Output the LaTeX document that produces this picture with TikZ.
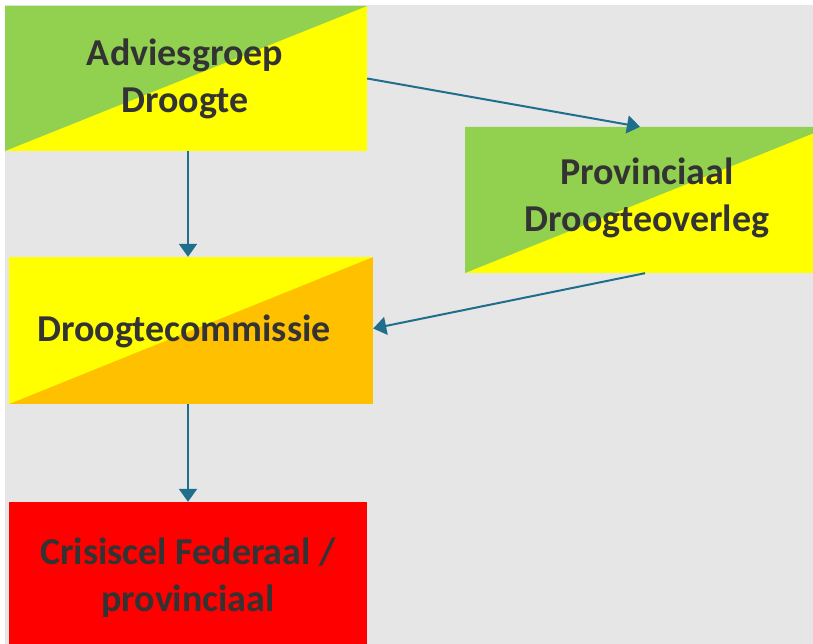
\documentclass[tikz,border=0pt]{standalone}
\usepackage{fontspec}
\setmainfont{Carlito}
\usetikzlibrary{arrows.meta}
\definecolor{bggrey}{HTML}{E6E6E6}
\definecolor{lgreen}{HTML}{92D050}
\definecolor{yel}{HTML}{FFFF00}
\definecolor{orng}{HTML}{FFC000}
\definecolor{rd}{HTML}{FF0000}
\definecolor{txt}{HTML}{333333}
\definecolor{arrc}{RGB}{31,110,140}
\tikzset{
  box/.style={rectangle, inner sep=0pt, draw=none},
  split/.style 2 args={fill=#2, path picture={\fill[#1] (path picture bounding box.north west) -- (path picture bounding box.north east) -- (path picture bounding box.south west) -- cycle;}},
  lbl/.style={align=center, text=txt, font=\fontsize{38}{47}\selectfont\bfseries},
  arr/.style={draw=arrc, line width=2pt, -{Triangle[width=18pt,length=13pt]}}
}
\begin{document}
\begin{tikzpicture}[x=1pt,y=-1pt]
\useasboundingbox (0,0) rectangle (813,644);
\fill[white] (0,0) rectangle (813,644);
\fill[bggrey] (5,5) rectangle (813,644);
% boxes
\node[box, split={lgreen}{yel}, minimum width=362pt, minimum height=145pt] (n1) at (186,78.5) {};
\node[box, split={lgreen}{yel}, minimum width=364pt, minimum height=146pt] (n2) at (647,200) {};
\node[box, split={yel}{orng}, minimum width=364pt, minimum height=147pt] (n3) at (191,330.5) {};
\node[box, fill=rd, minimum width=358pt, minimum height=146pt] (n4) at (188,575) {};
% labels
\node[lbl] (t1) at ([xshift=-1pt]n1.center) {Adviesgroep\\Droogte};
\node[lbl] (t2) at ([yshift=2pt]n2.center) {Provinciaal\\Droogteoverleg};
\node[lbl] (t3) at ([xshift=-7pt,yshift=-1pt]n3.center) {Droogtecommissie};
\node[lbl] (t4) at ([yshift=-3pt]n4.center) {Crisiscel Federaal /\\provinciaal};
% connectors
\draw[arr] ([xshift=2pt]n1.south) -- ([xshift=2pt]n1.south |- n3.north);
\draw[arr] (n1.east) -- ([xshift=-7pt]n2.north);
\draw[arr] ([xshift=-2pt]n2.south) -- ([yshift=2pt]n3.east);
\draw[arr] (n3.south -| n4.north) -- (n4.north);
\end{tikzpicture}
\end{document}
